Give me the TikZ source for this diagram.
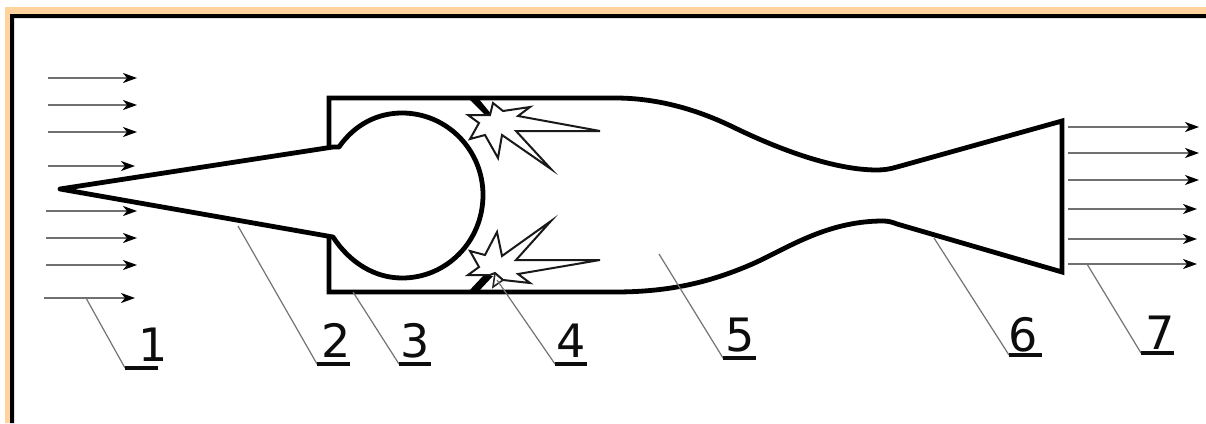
\documentclass[tikz,border=0pt]{standalone}
\usepackage{fontspec}
\setmainfont{DejaVu Sans}
\usetikzlibrary{arrows.meta}
\definecolor{glow}{HTML}{FFD39B}
\definecolor{flow}{HTML}{707070}
\tikzset{
  x=1pt,y=-1pt,
  wall/.style={line width=4.8pt,line join=miter,black},
  flowline/.style={line width=1.7pt,flow,-{Stealth[length=14pt,width=10pt,inset=4pt,black]}},
  leader/.style={line width=1.2pt,black!55},
  num/.style={font=\fontsize{46}{46}\selectfont,anchor=base,inner sep=0pt,text=black!95},
  rulebar/.style={line width=3.2pt,black!95},
  flash/.style={line width=2pt,fill=white,draw=black!90,line join=miter},
  injector/.style={fill=black,draw=none}
}
\begin{document}
\begin{tikzpicture}
\useasboundingbox (0,0) rectangle (1206,423);
% frame
\fill[glow] (5,423) -- (5,7) -- (1206,7) -- (1206,14) -- (10,14) -- (10,423) -- cycle;
\fill[black] (10,423) -- (10,14) -- (1206,14) -- (1206,18) -- (14,18) -- (14,423) -- cycle;
% flow in
\coordinate (a1s) at (48,78);  \coordinate (a1e) at (137,78);
\coordinate (a2s) at (48,105); \coordinate (a2e) at (137,105);
\coordinate (a3s) at (48,132); \coordinate (a3e) at (137,132);
\coordinate (a4s) at (48,166); \coordinate (a4e) at (135,166);
\coordinate (a5s) at (46,211); \coordinate (a5e) at (137,211);
\coordinate (a6s) at (46,238); \coordinate (a6e) at (137,238);
\coordinate (a7s) at (46,265); \coordinate (a7e) at (137,265);
\coordinate (a8s) at (44,298); \coordinate (a8e) at (135,298);
\foreach \i in {1,...,8} \draw[flowline] (a\i s) -- (a\i e);
% flow out
\coordinate (b1s) at (1068,127); \coordinate (b1e) at (1199,127);
\coordinate (b2s) at (1068,153); \coordinate (b2e) at (1199,153);
\coordinate (b3s) at (1068,180); \coordinate (b3e) at (1199,180);
\coordinate (b4s) at (1068,209); \coordinate (b4e) at (1197,209);
\coordinate (b5s) at (1068,239); \coordinate (b5e) at (1197,239);
\coordinate (b6s) at (1068,264); \coordinate (b6e) at (1197,264);
\foreach \i in {1,...,6} \draw[flowline] (b\i s) -- (b\i e);
% engine
\draw[wall] (329,147) -- (329,98) -- (615,98)
  .. controls (660,98) and (700,111) .. (733,127)
  .. controls (780,150) and (835,170) .. (877,170)
  .. controls (884,170) and (890,169) .. (897,167)
  -- (1062,121) -- (1062,272) -- (897,224)
  .. controls (892,222) and (888,221) .. (883,221)
  .. controls (825,221) and (785,250) .. (750,265)
  .. controls (710,282) and (670,292) .. (615,292) -- (329,292) -- (329,238);
% inlet cone and central body
\draw[wall,line join=round] (60,189) -- (333,147) -- (339,147)
  .. controls (355,124) and (378,113) .. (402,113)
  .. controls (447,113) and (483,150) .. (483,195)
  .. controls (483,241) and (447,278) .. (402,278)
  .. controls (375,278) and (350,263) .. (333,237) -- (60,189) -- cycle;
% injectors
\fill[injector] (468,98) -- (478,98) -- (492,115) -- (485,115) -- cycle;
\fill[injector] (468,292) -- (478,292) -- (493,276) -- (483,276) -- cycle;
% flames
\draw[flash] (493,103) -- (503,111) -- (530,107) -- (518,116) -- (600,131) -- (516,131)
  -- (551,169) -- (502,135) -- (498,158) -- (485,135) -- (470,139) -- (479,123)
  -- (468,115) -- (490,115) -- cycle;
\draw[flash] (495,273) -- (503,280) -- (530,283) -- (518,274) -- (600,260) -- (516,260)
  -- (551,221) -- (502,256) -- (497,232) -- (485,255) -- (470,251) -- (479,267)
  -- (468,275) -- (490,275) -- cycle;
\draw[line width=1.6pt,black!85] (495,273) -- (493,287) -- (503,280);
% labels
\node[num] (n1) at (153,361) {1};
\node[num] (n2) at (336,357) {2};
\node[num] (n3) at (415,357) {3};
\node[num] (n4) at (571,357) {4};
\node[num] (n5) at (740,351) {5};
\node[num] (n6) at (1023,351) {6};
\node[num] (n7) at (1160,349) {7};
% leader ends
\coordinate (p1) at (86,298);   \coordinate (q1) at (125,368); \coordinate (r1) at (158,368);
\coordinate (p2) at (238,226);  \coordinate (q2) at (317,364); \coordinate (r2) at (350,364);
\coordinate (p3) at (353,292);  \coordinate (q3) at (399,364); \coordinate (r3) at (431,364);
\coordinate (p4) at (497,280);  \coordinate (q4) at (555,364); \coordinate (r4) at (587,364);
\coordinate (p5) at (659,254);  \coordinate (q5) at (723,358); \coordinate (r5) at (756,358);
\coordinate (p6) at (934,238);  \coordinate (q6) at (1009,355); \coordinate (r6) at (1042,355);
\coordinate (p7) at (1087,264); \coordinate (q7) at (1141,353); \coordinate (r7) at (1174,353);
\foreach \i in {1,...,7} {
  \draw[leader] (p\i) -- (q\i);
  \draw[rulebar] (q\i) -- (r\i);
}
\end{tikzpicture}
\end{document}
